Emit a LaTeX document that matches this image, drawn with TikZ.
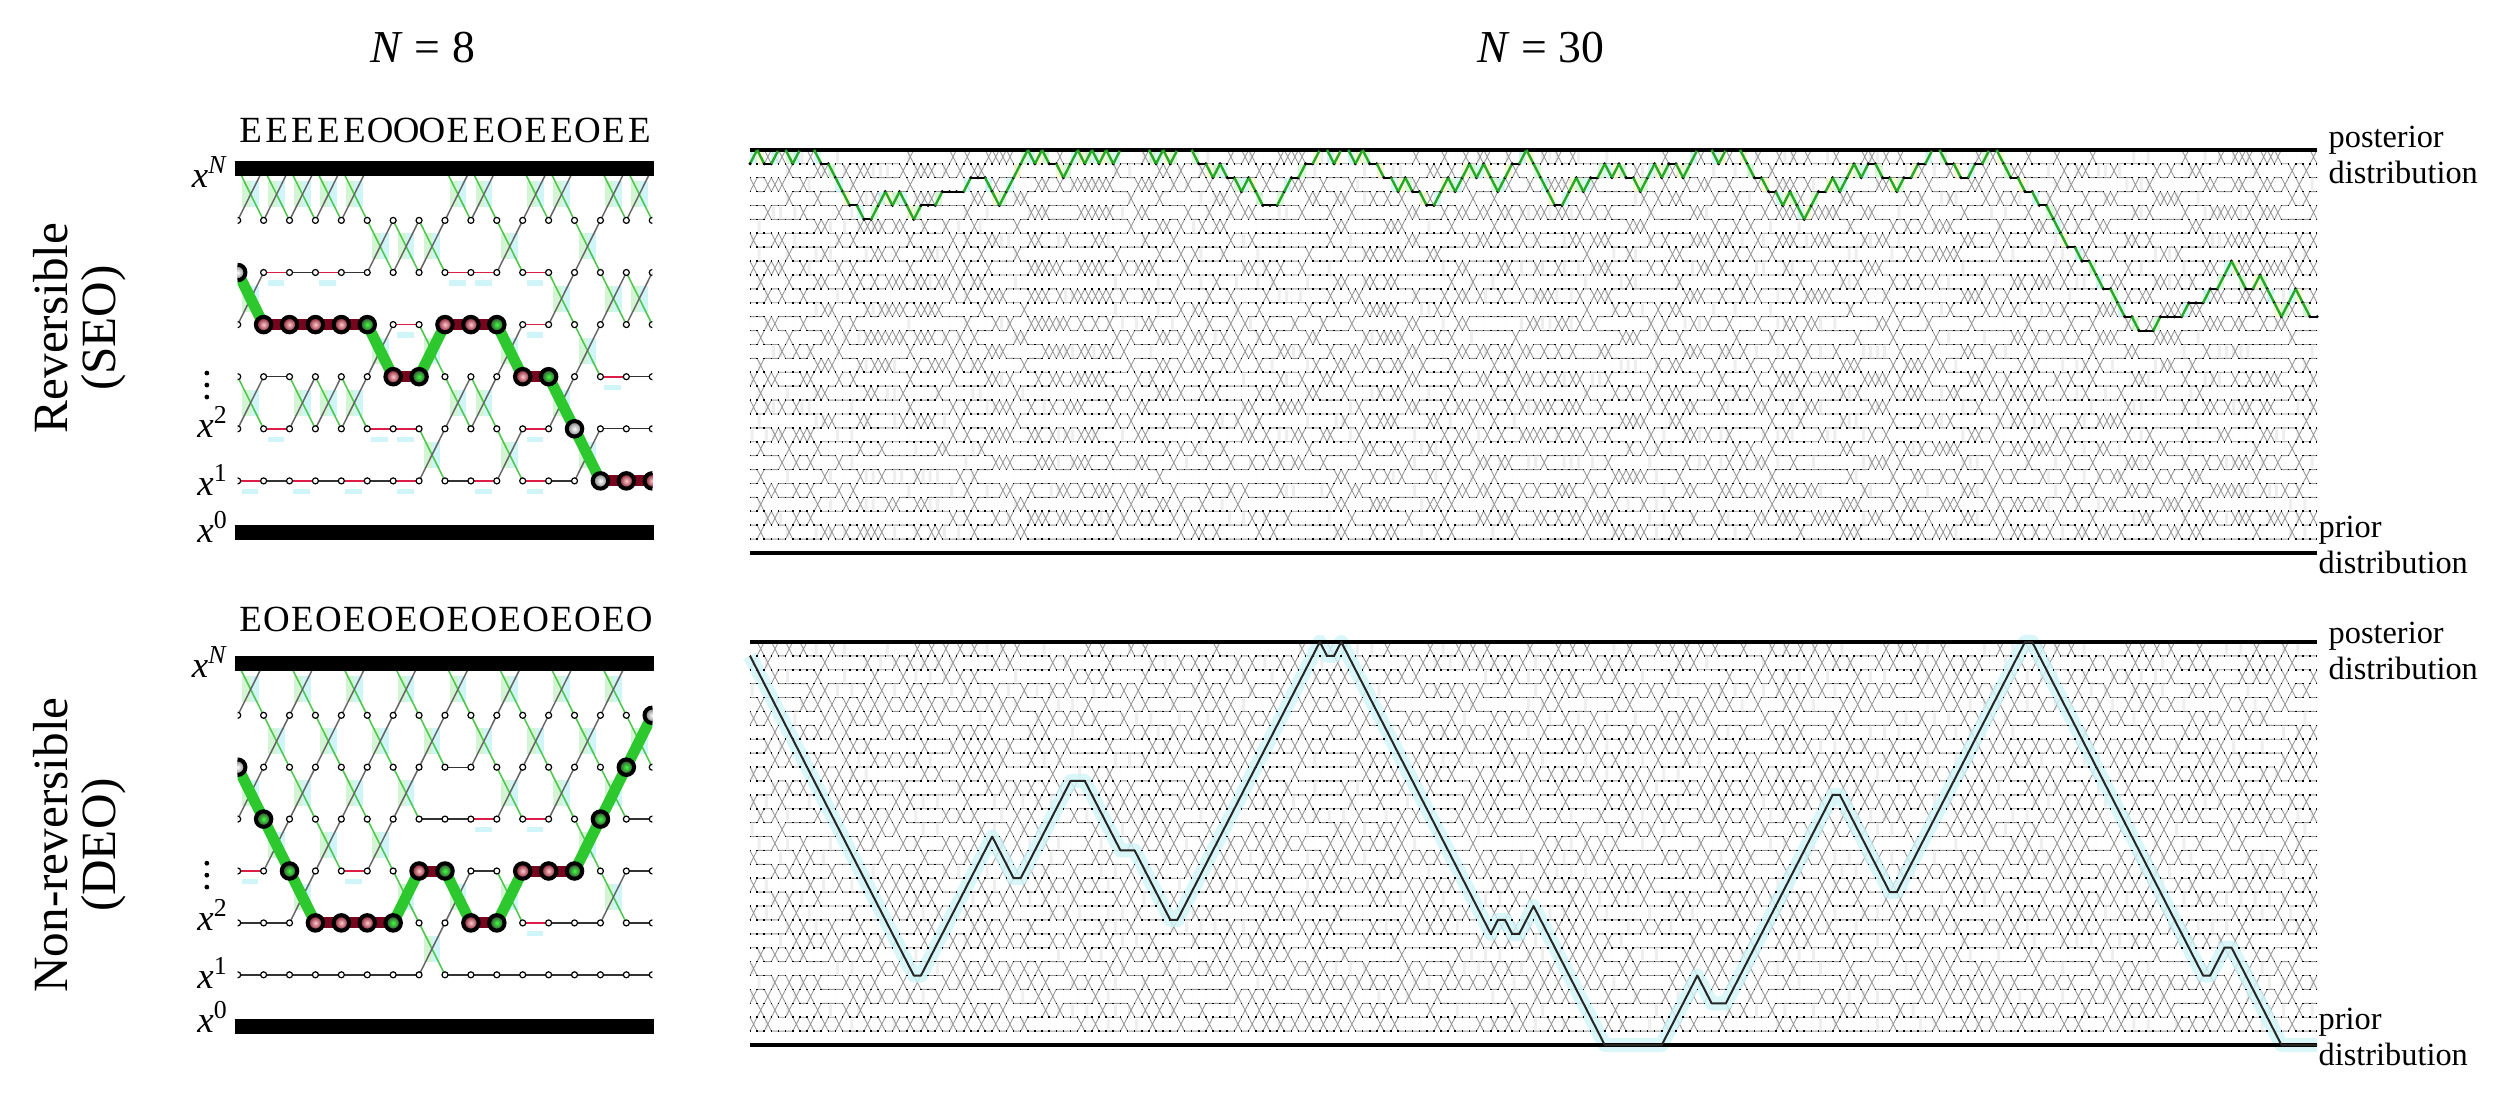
\documentclass[tikz,border=0pt]{standalone}
\usepackage{fontspec}
\setmainfont{Liberation Serif}

\definecolor{movegreen}{RGB}{45,200,45}
\definecolor{xgreen}{RGB}{80,200,80}
\definecolor{rejred}{RGB}{220,30,70}
\definecolor{holdred}{RGB}{120,5,30}
\definecolor{patchgreen}{RGB}{212,245,212}
\definecolor{patchcyan}{RGB}{208,245,248}
\definecolor{patchyellow}{RGB}{250,245,205}

\tikzset{
  swapgreen/.style={xgreen, line width=0.16mm},
  swapdark/.style={black!60, line width=0.15mm},
  stayline/.style={black!80, line width=0.14mm},
  stayred/.style={rejred, line width=0.17mm},
  nodedot/.style={circle, draw=black, fill=white, line width=0.12mm, minimum size=0.6mm, inner sep=0pt},
  pathmove/.style={movegreen, line width=1.1mm},
  pathhold/.style={holdred, line width=1.1mm},
  bigR/.style={circle, draw=black, line width=0.4mm, minimum size=1.55mm, inner sep=0pt, inner color=pink!80, outer color=holdred},
  bigG/.style={circle, draw=black, line width=0.4mm, minimum size=1.55mm, inner sep=0pt, inner color=green!75, outer color=black!80},
  bigW/.style={circle, draw=black, line width=0.4mm, minimum size=1.55mm, inner sep=0pt, inner color=white, outer color=black!55},
  chainbar/.style={line width=1.5mm},
  eolab/.style={font=\fontsize{10.5}{12}\selectfont, inner sep=0pt},
  levlab/.style={font=\fontsize{10.5}{12}\selectfont, anchor=east, inner sep=0pt},
  sidelab/.style={font=\fontsize{14}{13.7}\selectfont, align=center, rotate=90},
  titlelab/.style={font=\fontsize{13}{15}\selectfont},
  distlab/.style={font=\fontsize{9.2}{10}\selectfont, align=left, anchor=west, inner sep=0pt},
  lattice/.style={gray!80, line width=0.09mm},
  latpatch/.style={gray!13},
  dotrow/.style={line width=0.16mm, dash pattern=on 0.16mm off 0.5523mm, dash phase=0.08mm},
  distline/.style={line width=0.35mm},
  seomove/.style={movegreen!85!black, line width=0.24mm},
  seohold/.style={black, line width=0.2mm},
  deoband/.style={patchcyan, line width=1.4mm, line join=round, opacity=0.8},
  deopath/.style={black!85, line width=0.2mm, line join=round},
}

% accepted (1) or rejected (0) swap per pair, by round
\def\specSEO{E/{6/1,4/1,2/1,0/0}, E/{6/1,4/0,2/0,0/0}, E/{6/1,4/0,2/1,0/0}, E/{6/1,4/0,2/1,0/0},
  E/{6/1,4/0,2/1,0/0}, O/{5/1,3/1,1/0}, O/{5/1,3/0,1/0}, O/{5/1,3/1,1/1}, E/{6/1,4/0,2/1,0/0},
  E/{6/1,4/0,2/1,0/0}, O/{5/1,3/1,1/1}, E/{6/1,4/0,2/0,0/0}, E/{6/1,4/1,2/1,0/0}, O/{5/1,3/1,1/1},
  E/{6/1,4/1,2/0,0/0}, E/{6/1,4/1,2/0,0/0}}
\def\specDEO{E/{6/1,4/1,2/0,0/0}, O/{5/1,3/1,1/0}, E/{6/1,4/1,2/1,0/0}, O/{5/1,3/1,1/0},
  E/{6/1,4/1,2/0,0/0}, O/{5/1,3/1,1/0}, E/{6/1,4/1,2/1,0/0}, O/{5/1,3/0,1/1}, E/{6/1,4/0,2/1,0/0},
  O/{5/1,3/0,1/0}, E/{6/1,4/1,2/1,0/0}, O/{5/1,3/0,1/0}, E/{6/1,4/1,2/0,0/0}, O/{5/1,3/1,1/0},
  E/{6/1,4/1,2/1,0/0}, O/{5/1,3/0,1/0}}
% levels of the tracked replica, N=30
\def\seolevels{29,28,28,29,29,28,29,29,29,28,28,27,26,25,25,24,24,25,26,25,26,25,24,25,25,25,26,26,26,26,27,27,27,26,25,26,27,28,29,28,29,28,28,27,28,29,28,29,28,29,28,29,29,29,29,29,28,29,28,29,29,29,28,28,27,28,27,27,26,27,26,25,25,25,26,27,27,28,28,29,29,28,29,29,28,29,28,28,27,27,26,27,26,26,25,25,26,27,26,27,28,27,28,27,26,27,28,28,29,28,27,26,25,25,26,27,26,27,27,28,27,28,27,27,26,27,28,27,28,28,27,28,29,29,29,28,29,29,29,28,27,27,26,26,25,26,25,24,25,26,26,27,26,27,28,27,28,28,27,27,26,27,27,28,28,29,29,28,28,27,27,28,28,29,29,28,27,27,26,26,25,25,24,23,22,22,21,21,20,19,19,18,17,17,16,16,16,17,17,17,17,18,18,18,19,19,20,21,20,19,19,20,19,18,17,18,19,18,17,17}
\def\deolist{23/5,24/5,34/15,37/12,38/12,45/19,47/19,52/14,54/14,59/9,60/9,80/29,81/28,82/28,83/29,104/8,105/9,106/9,107/8,108/8,110/10,120/0,128/0,133/5,135/3,137/3,152/18,153/18,160/11,161/11,179/29,180/29,204/5,205/5,207/7,208/7,215/0,220/0}

\begin{document}
\begin{tikzpicture}[x=0.1mm, y=-0.1mm]
  \useasboundingbox (0,0) rectangle (2504,1094);
  \pgfmathsetseed{11}

  \node[titlelab] (titleL) at (423,48) {\textit{N} = 8};
  \node[titlelab] (titleR) at (1541,48) {\textit{N} = 30};
  \node[sidelab] (sideA) at (80,328) {Reversible\\(SEO)};
  \node[sidelab] (sideB) at (80,845) {Non-reversible\\(DEO)};

  % N=8, SEO
  \begin{scope}[shift={(237.7,533)}, x=2.591mm, y=5.21mm]
    \foreach \eo/\spec [count=\ii] in \specSEO
      \node[eolab] (eoA\ii) at (\ii-0.5,7.73) {\eo};
    \begin{scope}
      \clip (0,-0.3) rectangle (16,7.3);
      \foreach \eo/\spec [count=\ii] in \specSEO {
        \foreach \kk/\ac in \spec {
          \ifnum\ac=1
            \fill[patchgreen] (\ii-0.82,\kk+0.25) rectangle (\ii-0.5,\kk+0.75);
            \fill[patchcyan] (\ii-0.5,\kk+0.25) rectangle (\ii-0.18,\kk+0.75);
            \draw[swapgreen] (\ii-1,\kk+1) -- (\ii,\kk);
            \draw[swapdark] (\ii-1,\kk) -- (\ii,\kk+1);
          \else
            \ifnum\kk>0 \draw[stayline] (\ii-1,\kk) -- (\ii,\kk); \fi
            \ifnum\kk<6 \draw[stayline] (\ii-1,\kk+1) -- (\ii,\kk+1); \fi
          \fi
        }
      }
      \foreach \ii/\kk in {2/5,4/5,9/5,10/5,12/5,7/4,12/4,15/3,2/2,6/2,7/2,12/2,1/1,3/1,5/1,7/1,10/1,12/1} {
        \fill[patchcyan] (\ii-0.85,\kk-0.15) rectangle (\ii-0.2,\kk-0.25);
        \draw[stayred] (\ii-1,\kk) -- (\ii,\kk);
      }
      \foreach \cc in {0,...,16}
        \foreach \kk in {1,...,6}
          \node[nodedot] (dotA-\cc-\kk) at (\cc,\kk) {};
      \foreach \cc/\kk [remember=\cc as \cp (initially 0), remember=\kk as \kp (initially 5)] in
          {1/4,2/4,3/4,4/4,5/4,6/3,7/3,8/4,9/4,10/4,11/3,12/3,13/2,14/1,15/1,16/1} {
        \ifnum\kk=\kp \draw[pathhold] (\cp,\kp) -- (\cc,\kk);
        \else \draw[pathmove] (\cp,\kp) -- (\cc,\kk); \fi
      }
      \foreach \cc/\kk/\sty in {0/5/bigW,1/4/bigR,2/4/bigR,3/4/bigR,4/4/bigR,5/4/bigG,6/3/bigR,7/3/bigG,
          8/4/bigR,9/4/bigR,10/4/bigG,11/3/bigR,12/3/bigG,13/2/bigW,14/1/bigW,15/1/bigR,16/1/bigR}
        \node[\sty] (hotA\cc) at (\cc,\kk) {};
    \end{scope}
    \draw[chainbar] (-0.12,7) -- (16.05,7);
    \draw[chainbar] (-0.12,0) -- (16.05,0);
    \node[levlab] (xNA) at (-0.33,6.93) {\textit{x}\textsuperscript{\textit{N}}};
    \node[levlab] (x2A) at (-0.33,2.13) {\textit{x}\textsuperscript{2}};
    \node[levlab] (x1A) at (-0.33,1.02) {\textit{x}\textsuperscript{1}};
    \node[levlab] (x0A) at (-0.33,0.12) {\textit{x}\textsuperscript{0}};
    \foreach \dd in {2.61,2.84,3.07} \fill (-1.19,\dd) circle (0.24mm);
  \end{scope}

  % N=8, DEO
  \begin{scope}[shift={(237.7,1026.7)}, x=2.591mm, y=5.19mm]
    \foreach \eo/\spec [count=\ii] in \specDEO
      \node[eolab] (eoB\ii) at (\ii-0.5,7.84) {\eo};
    \begin{scope}
      \clip (0,-0.3) rectangle (16,7.3);
      \foreach \eo/\spec [count=\ii] in \specDEO {
        \foreach \kk/\ac in \spec {
          \ifnum\ac=1
            \fill[patchgreen] (\ii-0.82,\kk+0.25) rectangle (\ii-0.5,\kk+0.75);
            \fill[patchcyan] (\ii-0.5,\kk+0.25) rectangle (\ii-0.18,\kk+0.75);
            \draw[swapgreen] (\ii-1,\kk+1) -- (\ii,\kk);
            \draw[swapdark] (\ii-1,\kk) -- (\ii,\kk+1);
          \else
            \ifnum\kk>0 \draw[stayline] (\ii-1,\kk) -- (\ii,\kk); \fi
            \ifnum\kk<6 \draw[stayline] (\ii-1,\kk+1) -- (\ii,\kk+1); \fi
          \fi
        }
      }
      \foreach \ii/\kk in {1/3,5/3,10/4,12/4,12/2} {
        \fill[patchcyan] (\ii-0.85,\kk-0.15) rectangle (\ii-0.2,\kk-0.25);
        \draw[stayred] (\ii-1,\kk) -- (\ii,\kk);
      }
      \foreach \cc in {0,...,16}
        \foreach \kk in {1,...,6}
          \node[nodedot] (dotB-\cc-\kk) at (\cc,\kk) {};
      \foreach \cc/\kk [remember=\cc as \cp (initially 0), remember=\kk as \kp (initially 5)] in
          {1/4,2/3,3/2,4/2,5/2,6/2,7/3,8/3,9/2,10/2,11/3,12/3,13/3,14/4,15/5,16/6} {
        \ifnum\kk=\kp \draw[pathhold] (\cp,\kp) -- (\cc,\kk);
        \else \draw[pathmove] (\cp,\kp) -- (\cc,\kk); \fi
      }
      \foreach \cc/\kk/\sty in {0/5/bigW,1/4/bigG,2/3/bigG,3/2/bigR,4/2/bigR,5/2/bigR,6/2/bigG,7/3/bigR,
          8/3/bigG,9/2/bigR,10/2/bigG,11/3/bigR,12/3/bigR,13/3/bigG,14/4/bigG,15/5/bigG,16/6/bigW}
        \node[\sty] (hotB\cc) at (\cc,\kk) {};
    \end{scope}
    \draw[chainbar] (-0.12,7) -- (16.05,7);
    \draw[chainbar] (-0.12,0) -- (16.05,0);
    \node[levlab] (xNB) at (-0.33,7.02) {\textit{x}\textsuperscript{\textit{N}}};
    \node[levlab] (x2B) at (-0.33,2.15) {\textit{x}\textsuperscript{2}};
    \node[levlab] (x1B) at (-0.33,1.03) {\textit{x}\textsuperscript{1}};
    \node[levlab] (x0B) at (-0.33,0.19) {\textit{x}\textsuperscript{0}};
    \foreach \dd in {2.69,2.92,3.15} \fill (-1.19,\dd) circle (0.24mm);
  \end{scope}

  % N=30, SEO
  \begin{scope}[shift={(750,553)}, x=0.7123mm, y=1.39mm]
    \foreach \rr [evaluate=\rr as \pp using {int(rnd<0.5)}] in {0,...,219} {
      \fill[latpatch] \foreach \jj [evaluate=\jj as \kk using {int(2*\jj-\pp)}, evaluate=\jj as \bw using {0.42*int(rnd<0.3)}]
        in {1,...,14} {(\rr+0.08,\kk+0.1) rectangle (\rr+0.08+\bw,\kk+0.9)};
      \draw[lattice] (\rr,1) -- (\rr+1-\pp,1) \foreach \jj [evaluate=\jj as \kk using {int(2*\jj-\pp)}, evaluate=\jj as \ac using {int(rnd<0.55)}]
        in {1,...,14} {(\rr,\kk) -- (\rr+1,\kk+\ac) (\rr,\kk+1) -- (\rr+1,\kk+1-\ac)};
    }
    \foreach \lv [count=\rr, remember=\lv as \lp (initially 28)] in \seolevels {
      \ifnum\lv=\lp\relax\else
        \pgfmathtruncatemacro\lo{min(\lv,\lp)}
        \pgfmathtruncatemacro\pc{mod(\rr,3)}
        \ifcase\pc \fill[patchgreen, fill opacity=0.8] (\rr-1,\lo) rectangle (\rr,\lo+1);
        \or \fill[patchcyan, fill opacity=0.8] (\rr-1,\lo) rectangle (\rr,\lo+1);
        \or \fill[patchyellow, fill opacity=0.8] (\rr-1,\lo) rectangle (\rr,\lo+1); \fi
      \fi
    }
    \foreach \kk in {1,...,28} \draw[dotrow] (0,\kk) -- (220,\kk);
    \draw[distline] (0,0) -- (220,0);
    \draw[distline] (0,29) -- (220,29);
    \foreach \lv [count=\rr, remember=\lv as \lp (initially 28)] in \seolevels {
      \ifnum\lv=\lp \draw[seohold] (\rr-1,\lp) -- (\rr,\lv);
      \else \draw[seomove] (\rr-1,\lp) -- (\rr,\lv); \fi
      \fill (\rr,\lv) circle (0.17mm);
    }
    \fill (0,28) circle (0.17mm);
  \end{scope}

  % N=30, DEO
  \begin{scope}[shift={(750,1045)}, x=0.7123mm, y=1.39mm]
    \foreach \rr [evaluate=\rr as \pp using {int(mod(\rr+1,2))}] in {0,...,219} {
      \fill[latpatch] \foreach \jj [evaluate=\jj as \kk using {int(2*\jj-\pp)}, evaluate=\jj as \bw using {0.42*int(rnd<0.3)}]
        in {1,...,14} {(\rr+0.08,\kk+0.1) rectangle (\rr+0.08+\bw,\kk+0.9)};
      \draw[lattice] (\rr,1) -- (\rr+1-\pp,1) \foreach \jj [evaluate=\jj as \kk using {int(2*\jj-\pp)}, evaluate=\jj as \ac using {int(rnd<0.6)}]
        in {1,...,14} {(\rr,\kk) -- (\rr+1,\kk+\ac) (\rr,\kk+1) -- (\rr+1,\kk+1-\ac)};
    }
    \draw[deoband] (0,28) \foreach \rr/\lv in \deolist {-- (\rr,\lv)};
    \foreach \kk in {1,...,28} \draw[dotrow] (0,\kk) -- (220,\kk);
    \draw[distline] (0,0) -- (220,0);
    \draw[distline] (0,29) -- (220,29);
    \draw[deopath] (0,28) \foreach \rr/\lv in \deolist {-- (\rr,\lv)};
  \end{scope}

  \node[distlab] (postA) at (2328,155) {posterior\\distribution};
  \node[distlab] (priorA) at (2318,545) {prior\\distribution};
  \node[distlab] (postB) at (2328,651) {posterior\\distribution};
  \node[distlab] (priorB) at (2318,1037) {prior\\distribution};
\end{tikzpicture}
\end{document}
